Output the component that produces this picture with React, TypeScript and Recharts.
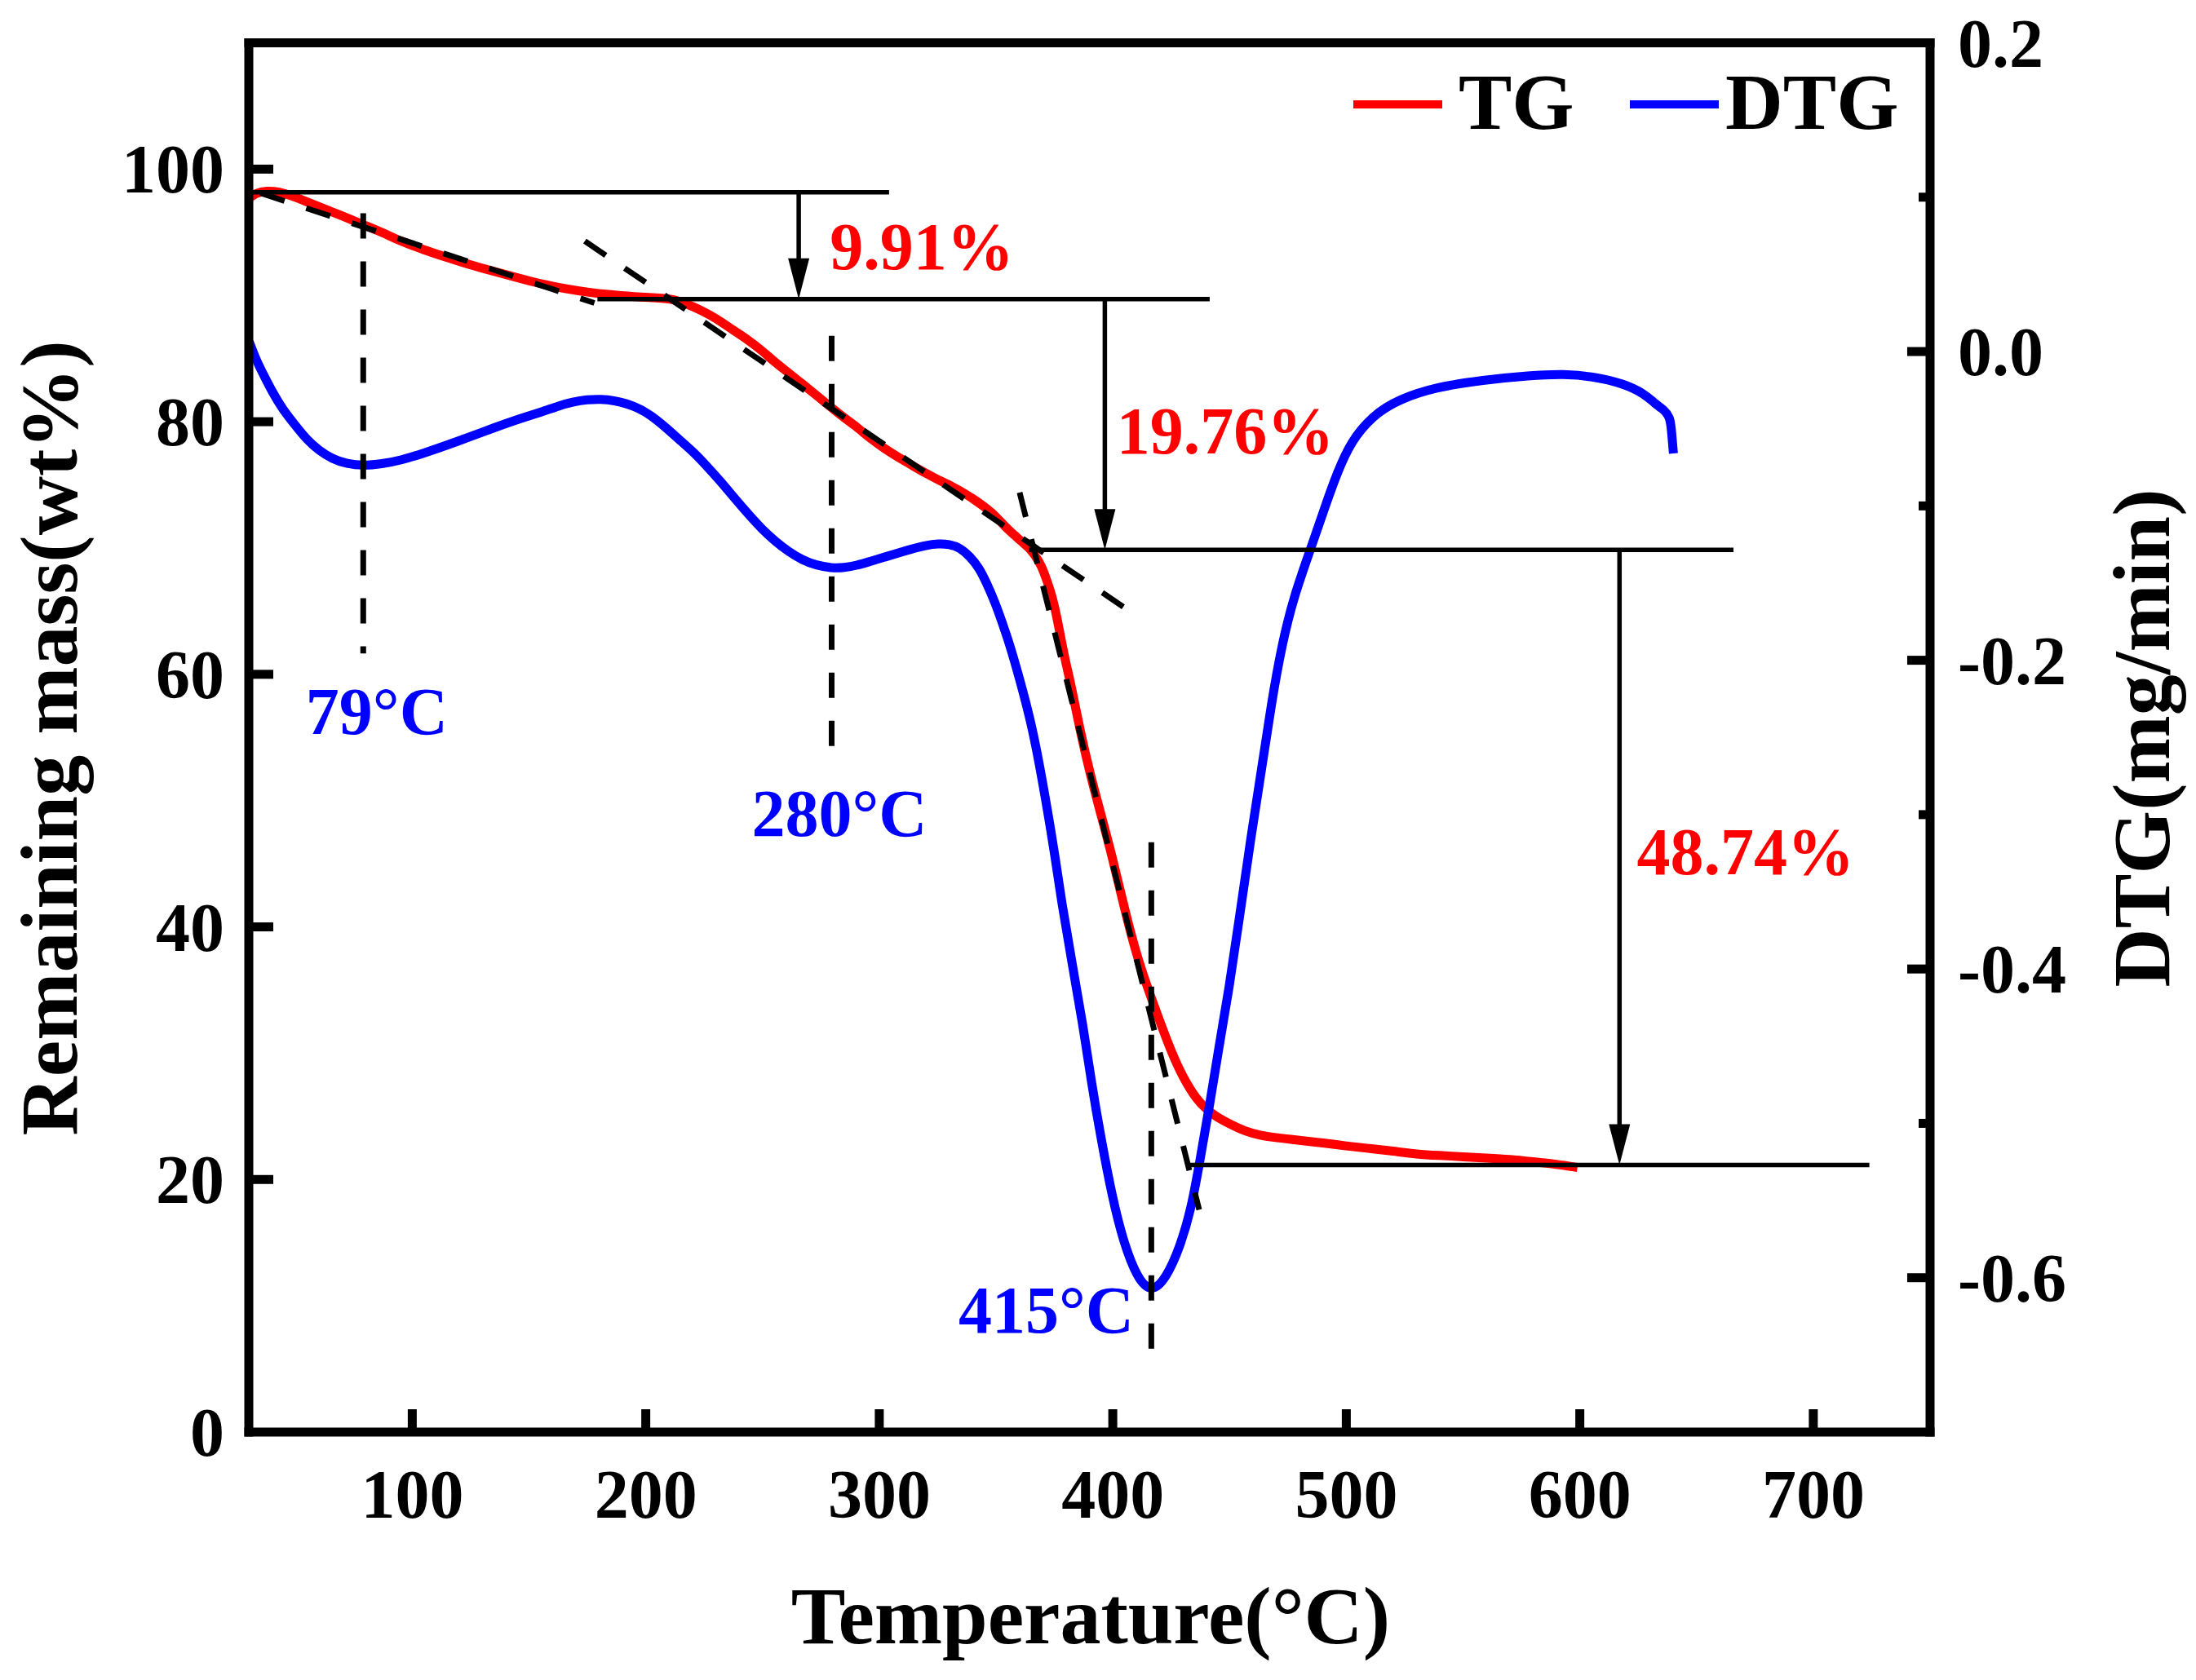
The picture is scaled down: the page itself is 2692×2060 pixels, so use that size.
import React from 'react';
import {
  ComposedChart,
  Line,
  XAxis,
  YAxis,
  ReferenceLine,
  ReferenceDot,
  Legend,
} from 'recharts';

const FONT = "'Liberation Serif', 'Times New Roman', Times, serif";

// ---------- data ----------
const tgTemp = [
  30.2, 33, 37.6, 43, 48.3, 55, 61.7, 70, 79, 87, 95, 105, 115, 125, 135, 145, 155, 165, 175, 185,
  195, 205, 212, 218, 224, 230, 237, 243.7, 250, 255.3, 261, 267, 273, 279.6, 285, 290.3, 296, 302,
  308, 313.6, 320, 325.2, 331, 336.8, 341, 346.2, 350, 354.3, 358, 361, 363.6, 366.5, 369.5, 372,
  374, 376, 378, 380, 382.2, 385.7, 390.4, 395.1, 399.7, 403.8, 407, 411, 416, 421, 425.3, 430, 436,
  440, 444, 450, 456.8, 463, 470, 480, 490, 500, 510, 520, 530, 540, 550, 560, 570, 580, 590, 599,
];
const tgMass = [
  97.7, 98.1, 98.3, 98.2, 97.9, 97.4, 96.9, 96.3, 95.6, 95.0, 94.3, 93.6, 93.0, 92.4, 91.9, 91.4,
  90.9, 90.55, 90.25, 90.05, 89.9, 89.8, 89.7, 89.3, 88.8, 88.2, 87.3, 86.5, 85.6, 84.7, 83.9, 83.0,
  82.1, 81.1, 80.3, 79.6, 78.7, 77.9, 77.2, 76.6, 75.9, 75.4, 74.9, 74.3, 73.8, 73.1, 72.5, 71.6,
  71.0, 70.5, 70.1, 69.5, 68.6, 67.3, 66.2, 64.6, 62.6, 60.8, 59.1, 55.8, 52.0, 48.8, 45.6, 42.4,
  40.0, 37.3, 34.6, 32.1, 30.0, 28.1, 26.3, 25.6, 25.0, 24.4, 23.8, 23.5, 23.3, 23.1, 22.9, 22.65,
  22.45, 22.25, 22.0, 21.9, 21.8, 21.7, 21.6, 21.4, 21.2, 20.95,
];

const dtgTemp = [
  30.2, 33, 36.3, 40, 44.3, 50, 55, 60, 65.7, 72, 79, 87, 95.1, 105, 115.2, 125, 135.2, 145, 155.3,
  163, 168.6, 175, 180.7, 186, 195.4, 202, 208.7, 215, 220.4, 226, 232, 238, 243.7, 250, 255.3, 261,
  267, 273, 279.6, 285, 290.3, 296, 302, 308, 313.6, 320, 325.2, 330, 334.5, 339, 342.7, 346, 349.7,
  352.5, 355.5, 360.1, 364.8, 368.3, 371.8, 375.3, 378, 382.3, 387, 391, 395.1, 399.8, 404.4, 410.3,
  416.6, 423, 428.8, 433.5, 437, 441.5, 445.5, 449.8, 454.5, 459.1, 463.8, 467.8, 472.5, 477.7,
  484.7, 491.7, 496, 502, 511.7, 522.4, 538.4, 558.5, 578.5, 593.2, 605.2, 618.6, 628, 632.1, 636.1,
  638.8, 639.4, 640.1,
];
const dtgRate = [
  0.0063, -0.005, -0.015, -0.026, -0.037, -0.048, -0.0574, -0.064, -0.0696, -0.0728, -0.074,
  -0.0728, -0.0705, -0.0658, -0.0605, -0.055, -0.0493, -0.044, -0.0392, -0.035, -0.0327, -0.0311,
  -0.0308, -0.0315, -0.0352, -0.041, -0.0493, -0.058, -0.065, -0.074, -0.084, -0.095, -0.105,
  -0.1155, -0.1227, -0.1295, -0.135, -0.1385, -0.1403, -0.14, -0.1386, -0.136, -0.1333, -0.1305,
  -0.128, -0.1255, -0.1245, -0.1248, -0.127, -0.133, -0.14, -0.15, -0.163, -0.175, -0.188, -0.212,
  -0.239, -0.265, -0.295, -0.327, -0.356, -0.394, -0.434, -0.475, -0.511, -0.548, -0.576, -0.6,
  -0.61, -0.6, -0.58, -0.556, -0.527, -0.488, -0.45, -0.413, -0.364, -0.315, -0.27, -0.229, -0.189,
  -0.158, -0.128, -0.097, -0.079, -0.058, -0.041, -0.031, -0.023, -0.0185, -0.0155, -0.0145, -0.016,
  -0.0206, -0.0276, -0.0337, -0.0377, -0.0428, -0.0539, -0.066,
];

// tick values
const xTicks = [100, 200, 300, 400, 500, 600, 700];
const leftTicks = [0, 20, 40, 60, 80, 100];
const rightTicks = [0.2, 0.1, 0, -0.1, -0.2, -0.3, -0.4, -0.5, -0.6];

// annotation geometry in data units (temperature, mass %)
const levelY = [98.16, 89.7, 69.85, 21.15];
const levelFrom = [30, 179.3, 364, 432.8];
const levelTo = [304.2, 441.5, 665.8, 724];

const arrowT = [265.5, 396.6, 617];
const arrowTop = [98.16, 89.7, 69.85];
const arrowBottom = [89.7, 69.85, 21.15];

const peakT = [79, 279.6, 416.5];
const peakTop = [96.5, 86.8, 46.7];
const peakBottom = [61.65, 54.2, 6.4];

const tangentFrom = [
  { x: 35, y: 98.1 },
  { x: 173.9, y: 94.3 },
  { x: 360.1, y: 74.4 },
];
const tangentTo = [
  { x: 178, y: 89.4 },
  { x: 405.6, y: 65.2 },
  { x: 437, y: 17.6 },
];

const lossLabels = ['9.91%', '19.76%', '48.74%'];
const lossT = [318.2, 448.2, 671];
const lossY = [92.06, 77.5, 44.2];

const peakLabels = ['79°C', '280°C', '415°C'];
const peakLabelT = [84.8, 282.9, 371.5];
const peakLabelY = [55.3, 47.2, 7.9];

const seriesNames = ['TG', 'DTG'];
const seriesColors = ['#ff0000', '#0000ff'];

const tgData = tgTemp.map((t, i) => ({ t, v: tgMass[i] }));
const dtgData = dtgTemp.map((t, i) => ({ t, v: dtgRate[i] }));

// ---------- custom renderers ----------
const AXIS_W = 11;

const XTick = (props: any) => {
  const { x, y, payload } = props;
  return (
    <g>
      <line x1={x} x2={x} y1={y} y2={y - 28} stroke="#000" strokeWidth={AXIS_W} />
      <text
        x={x}
        y={y + 105}
        textAnchor="middle"
        fontFamily={FONT}
        fontWeight="bold"
        fontSize={84}
        fill="#000"
      >
        {payload.value}
      </text>
    </g>
  );
};

const LeftTick = (props: any) => {
  const { x, y, payload } = props;
  return (
    <g>
      {payload.value !== 0 && (
        <line x1={x} x2={x + 30} y1={y} y2={y} stroke="#000" strokeWidth={AXIS_W} />
      )}
      <text
        x={x - 30}
        y={y + 29}
        textAnchor="end"
        fontFamily={FONT}
        fontWeight="bold"
        fontSize={84}
        fill="#000"
      >
        {payload.value}
      </text>
    </g>
  );
};

const RightTick = (props: any) => {
  const { x, y, payload } = props;
  const v = payload.value as number;
  const major = Math.round(v * 10) % 2 === 0;
  return (
    <g>
      {Math.abs(v - 0.2) > 1e-6 && (
        <line
          x1={x}
          x2={x - (major ? 28 : 14)}
          y1={y}
          y2={y}
          stroke="#000"
          strokeWidth={AXIS_W}
        />
      )}
      {major && (
        <text
          x={x + 34}
          y={y + 29}
          textAnchor="start"
          fontFamily={FONT}
          fontWeight="bold"
          fontSize={84}
          fill="#000"
        >
          {v.toFixed(1)}
        </text>
      )}
    </g>
  );
};

const ArrowShape = (props: any) => {
  const { x1, y1, x2, y2 } = props;
  const top = Math.min(y1, y2);
  const bottom = Math.max(y1, y2);
  const x = x1;
  return (
    <g>
      <line x1={x} x2={x2} y1={top} y2={bottom - 40} stroke="#000" strokeWidth={5.5} />
      <polygon
        points={`${x},${bottom} ${x - 13},${bottom - 50} ${x + 13},${bottom - 50}`}
        fill="#000"
      />
    </g>
  );
};

const makeText = (text: string, color: string, size: number) => (p: any) => (
  <text
    x={p.cx}
    y={p.cy}
    textAnchor="middle"
    fontFamily={FONT}
    fontWeight="bold"
    fontSize={size}
    fill={color}
  >
    {text}
  </text>
);

const YTitle = () => (
  <text
    x={94}
    y={905}
    transform="rotate(-90, 94, 905)"
    textAnchor="middle"
    fontFamily={FONT}
    fontWeight="bold"
    fontSize={100}
    fill="#000"
  >
    Remaining mass(wt%)
  </text>
);

const Y2Title = () => (
  <text
    x={2659}
    y={905}
    transform="rotate(-90, 2659, 905)"
    textAnchor="middle"
    fontFamily={FONT}
    fontWeight="bold"
    fontSize={100}
    fill="#000"
  >
    DTG(mg/min)
  </text>
);

const XTitle = () => (
  <text
    x={1337}
    y={2015}
    textAnchor="middle"
    fontFamily={FONT}
    fontWeight="bold"
    fontSize={100}
    fill="#000"
  >
    Temperature(°C)
  </text>
);

const renderLegend = (props: any) => {
  const payload: any[] = (props && props.payload) || [];
  const entries = seriesNames.map((n, i) => {
    const found = payload.find((p: any) => p && p.value === n);
    return { value: n, color: (found && found.color) || seriesColors[i] };
  });
  const offsets = [0, 339];
  const textX = [148, 136];
  return (
    <svg width={720} height={130} style={{ display: 'block' }}>
      {entries.map((entry, i) => (
        <g key={entry.value} transform={`translate(${offsets[i]},0)`}>
          <line x1={19} x2={128} y1={68} y2={68} stroke={entry.color} strokeWidth={10} />
          <text
            x={textX[i]}
            y={98}
            fontFamily={FONT}
            fontWeight="bold"
            fontSize={98}
            fill="#000"
          >
            {entry.value}
          </text>
        </g>
      ))}
    </svg>
  );
};

export default function App() {
  return (
    <div style={{ position: 'absolute', left: 0, top: 0, background: '#fff' }}>
      <ComposedChart
        width={2692}
        height={2060}
        margin={{ top: 52.5, right: 126, bottom: 104, left: 105 }}
      >
        <XAxis
          type="number"
          dataKey="t"
          domain={[30, 750]}
          ticks={xTicks}
          allowDataOverflow
          interval={0}
          height={200}
          tickSize={0}
          tickMargin={0}
          tickLine={false}
          tick={XTick}
          axisLine={{ stroke: '#000', strokeWidth: AXIS_W, strokeLinecap: 'square' }}
          label={XTitle}
        />
        <YAxis
          yAxisId="left"
          type="number"
          domain={[0, 110]}
          ticks={leftTicks}
          allowDataOverflow
          interval={0}
          width={200}
          tickSize={0}
          tickMargin={0}
          tickLine={false}
          tick={LeftTick}
          axisLine={{ stroke: '#000', strokeWidth: AXIS_W, strokeLinecap: 'square' }}
          label={YTitle}
        />
        <YAxis
          yAxisId="right"
          orientation="right"
          type="number"
          domain={[-0.7, 0.2]}
          ticks={rightTicks}
          allowDataOverflow
          interval={0}
          width={200}
          tickSize={0}
          tickMargin={0}
          tickLine={false}
          tick={RightTick}
          axisLine={{ stroke: '#000', strokeWidth: AXIS_W, strokeLinecap: 'square' }}
          label={Y2Title}
        />
        <ReferenceLine
          yAxisId="left"
          y={110}
          stroke="#000"
          strokeWidth={AXIS_W}
          strokeLinecap="square"
        />

        <Line
          data={tgData}
          dataKey="v"
          yAxisId="left"
          name={seriesNames[0]}
          type="basis"
          stroke={seriesColors[0]}
          strokeWidth={11}
          dot={false}
          activeDot={false}
          isAnimationActive={false}
        />
        <Line
          data={dtgData}
          dataKey="v"
          yAxisId="right"
          name={seriesNames[1]}
          type="basis"
          stroke={seriesColors[1]}
          strokeWidth={11}
          dot={false}
          activeDot={false}
          isAnimationActive={false}
        />

        {levelY.map((y, i) => (
          <ReferenceLine
            key={`lvl${i}`}
            yAxisId="left"
            segment={[
              { x: levelFrom[i], y },
              { x: levelTo[i], y },
            ]}
            stroke="#000"
            strokeWidth={5.5}
          />
        ))}
        {arrowT.map((t, i) => (
          <ReferenceLine
            key={`arr${i}`}
            yAxisId="left"
            segment={[
              { x: t, y: arrowTop[i] },
              { x: t, y: arrowBottom[i] },
            ]}
            stroke="#000"
            strokeWidth={5.5}
            shape={ArrowShape}
          />
        ))}
        {peakT.map((t, i) => (
          <ReferenceLine
            key={`pk${i}`}
            yAxisId="left"
            segment={[
              { x: t, y: peakTop[i] },
              { x: t, y: peakBottom[i] },
            ]}
            stroke="#000"
            strokeWidth={7}
            strokeDasharray="31 28"
          />
        ))}
        {tangentFrom.map((p, i) => (
          <ReferenceLine
            key={`tg${i}`}
            yAxisId="left"
            segment={[p, tangentTo[i]]}
            stroke="#000"
            strokeWidth={7}
            strokeDasharray="31 28"
          />
        ))}

        {lossLabels.map((s, i) => (
          <ReferenceDot
            key={`ll${i}`}
            yAxisId="left"
            x={lossT[i]}
            y={lossY[i]}
            r={0}
            shape={makeText(s, '#ff0000', 82)}
          />
        ))}
        {peakLabels.map((s, i) => (
          <ReferenceDot
            key={`pl${i}`}
            yAxisId="left"
            x={peakLabelT[i]}
            y={peakLabelY[i]}
            r={0}
            shape={makeText(s, '#0000ff', 82)}
          />
        ))}

        <Legend
          layout="horizontal"
          verticalAlign="middle"
          align="center"
          content={renderLegend}
          wrapperStyle={{ left: 1640, top: 60, width: 720, height: 130 }}
        />
      </ComposedChart>
    </div>
  );
}
